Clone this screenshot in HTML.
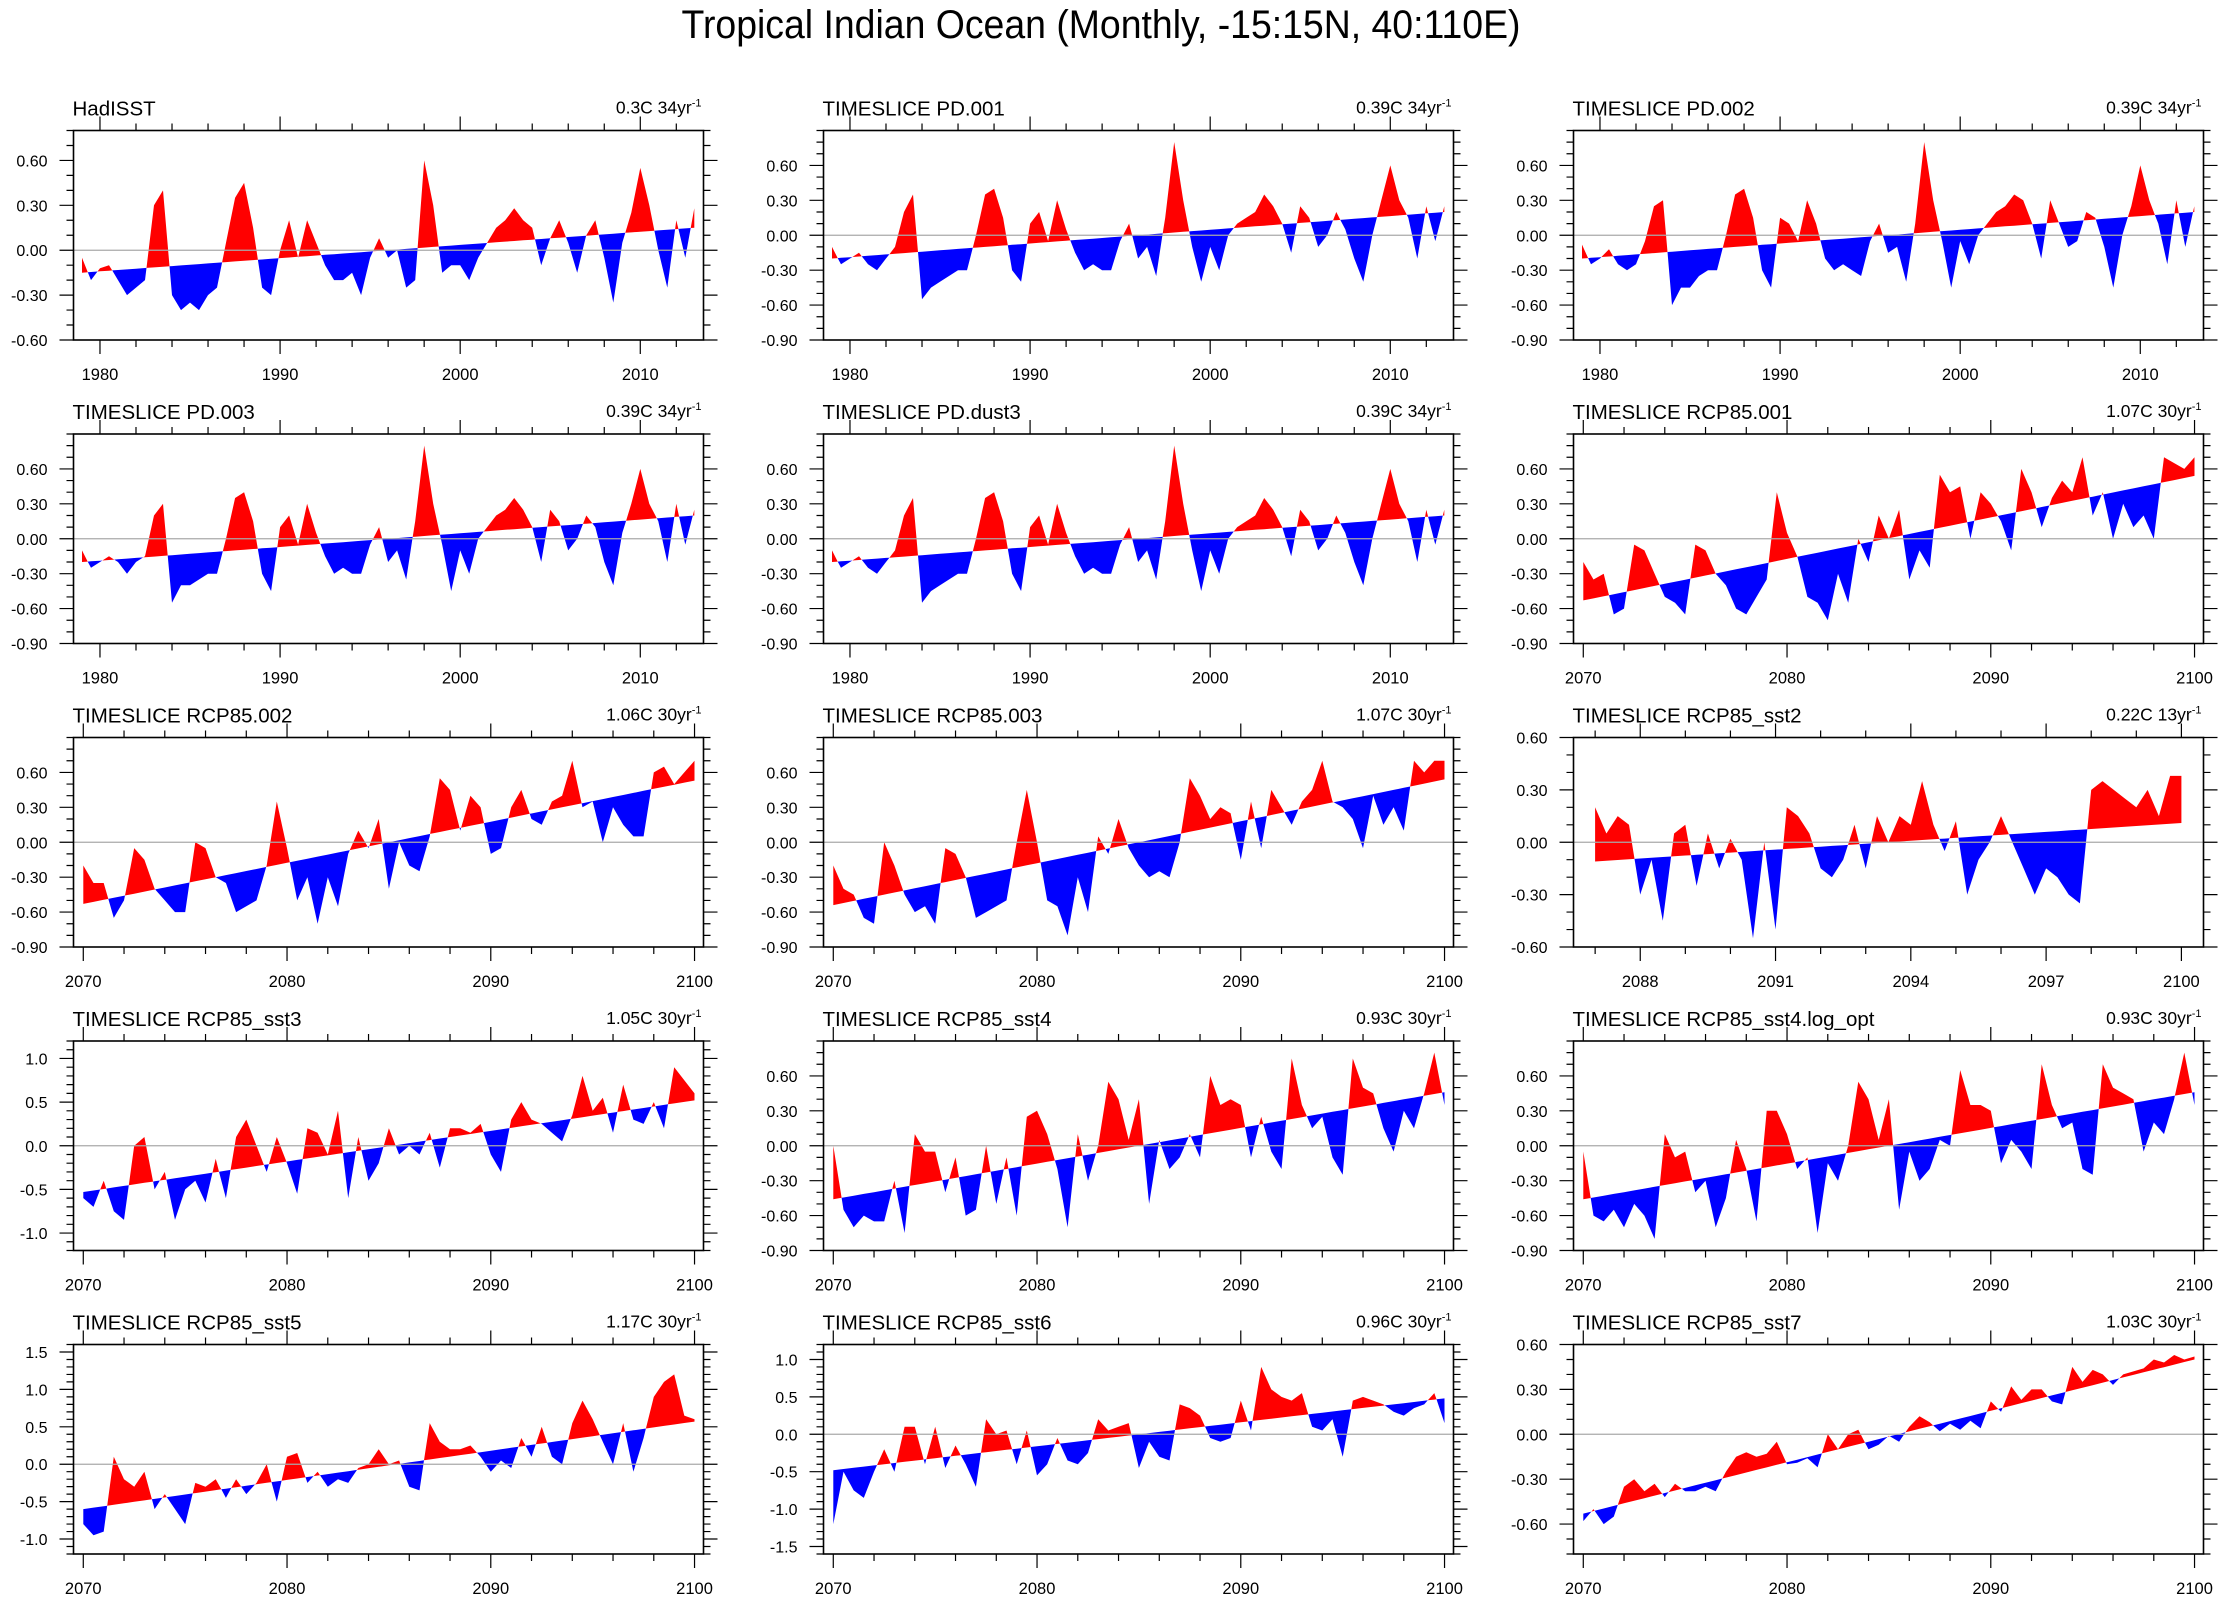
<!DOCTYPE html>
<html><head><meta charset="utf-8"><title>Tropical Indian Ocean</title>
<style>html,body{margin:0;padding:0;background:#fff}svg{display:block;font-family:"Liberation Sans",Arial,sans-serif}</style>
</head><body>
<svg id="fig" width="2227" height="1602" viewBox="0 0 2227 1602" xmlns="http://www.w3.org/2000/svg">
<rect width="2227" height="1602" fill="#fff"/>
<text x="1101" y="38" font-size="40" text-anchor="middle" textLength="839" lengthAdjust="spacingAndGlyphs">Tropical Indian Ocean (Monthly, -15:15N, 40:110E)</text>
</svg>
<script>
// ---- data (semiannual samples) ----
const hadisstValues=[-0.05,-0.2,-0.12,-0.1,-0.2,-0.3,-0.25,-0.2,0.3,0.4,-0.3,-0.4,-0.35,-0.4,-0.3,-0.25,0.05,0.35,0.45,0.15,-0.25,-0.3,0.0,0.2,-0.05,0.2,0.05,-0.1,-0.2,-0.2,-0.15,-0.3,-0.05,0.08,-0.05,0.0,-0.25,-0.2,0.6,0.3,-0.15,-0.1,-0.1,-0.2,-0.05,0.05,0.15,0.2,0.28,0.2,0.15,-0.1,0.08,0.2,0.05,-0.15,0.1,0.2,-0.05,-0.35,0.05,0.25,0.55,0.3,0.0,-0.25,0.2,-0.05,0.28];
const pd001Values=[-0.1,-0.25,-0.2,-0.15,-0.25,-0.3,-0.2,-0.1,0.2,0.35,-0.55,-0.45,-0.4,-0.35,-0.3,-0.3,0.0,0.35,0.4,0.15,-0.3,-0.4,0.1,0.2,-0.05,0.3,0.05,-0.15,-0.3,-0.25,-0.3,-0.3,-0.05,0.1,-0.2,-0.1,-0.35,0.15,0.8,0.3,-0.1,-0.4,-0.1,-0.3,0.0,0.1,0.15,0.2,0.35,0.25,0.1,-0.15,0.25,0.15,-0.1,0.0,0.2,0.05,-0.2,-0.4,0.0,0.3,0.6,0.3,0.15,-0.2,0.25,-0.05,0.25];
const pd002Values=[-0.08,-0.25,-0.2,-0.12,-0.25,-0.3,-0.25,-0.05,0.25,0.3,-0.6,-0.45,-0.45,-0.35,-0.3,-0.3,0.0,0.35,0.4,0.15,-0.3,-0.45,0.15,0.1,-0.05,0.3,0.1,-0.2,-0.3,-0.25,-0.3,-0.35,-0.05,0.1,-0.15,-0.1,-0.4,0.1,0.8,0.3,-0.05,-0.45,-0.05,-0.25,0.0,0.1,0.2,0.25,0.35,0.3,0.1,-0.2,0.3,0.1,-0.1,-0.05,0.2,0.15,-0.1,-0.45,0.0,0.25,0.6,0.3,0.1,-0.25,0.3,-0.1,0.25];
const pd003Values=[-0.1,-0.25,-0.2,-0.15,-0.2,-0.3,-0.2,-0.15,0.2,0.3,-0.55,-0.4,-0.4,-0.35,-0.3,-0.3,0.0,0.35,0.4,0.15,-0.3,-0.45,0.1,0.2,-0.05,0.3,0.05,-0.15,-0.3,-0.25,-0.3,-0.3,-0.05,0.1,-0.2,-0.1,-0.35,0.15,0.8,0.3,-0.05,-0.45,-0.1,-0.3,0.0,0.1,0.2,0.25,0.35,0.25,0.1,-0.2,0.25,0.15,-0.1,0.0,0.2,0.1,-0.2,-0.4,0.05,0.3,0.6,0.3,0.15,-0.2,0.3,-0.05,0.25];
const dust3Values=[-0.1,-0.25,-0.2,-0.15,-0.25,-0.3,-0.2,-0.1,0.2,0.35,-0.55,-0.45,-0.4,-0.35,-0.3,-0.3,0.0,0.35,0.4,0.15,-0.3,-0.45,0.1,0.2,-0.05,0.3,0.05,-0.15,-0.3,-0.25,-0.3,-0.3,-0.05,0.1,-0.2,-0.1,-0.35,0.15,0.8,0.3,-0.1,-0.45,-0.1,-0.3,0.0,0.1,0.15,0.2,0.35,0.25,0.1,-0.15,0.25,0.15,-0.1,0.0,0.2,0.05,-0.2,-0.4,0.0,0.3,0.6,0.3,0.15,-0.2,0.25,-0.05,0.25];
const rcp001Values=[-0.2,-0.35,-0.3,-0.65,-0.6,-0.05,-0.1,-0.3,-0.5,-0.55,-0.65,-0.05,-0.1,-0.3,-0.4,-0.6,-0.65,-0.5,-0.35,0.4,0.05,-0.15,-0.5,-0.55,-0.7,-0.3,-0.55,0.0,-0.2,0.2,0.0,0.25,-0.35,-0.1,-0.25,0.55,0.4,0.45,0.0,0.4,0.3,0.15,-0.1,0.6,0.4,0.1,0.35,0.5,0.4,0.7,0.2,0.4,0.0,0.3,0.1,0.2,0.0,0.7,0.65,0.6,0.7];
const rcp002Values=[-0.2,-0.35,-0.35,-0.65,-0.5,-0.05,-0.15,-0.4,-0.5,-0.6,-0.6,0.0,-0.05,-0.3,-0.35,-0.6,-0.55,-0.5,-0.2,0.35,-0.05,-0.5,-0.3,-0.7,-0.3,-0.55,-0.1,0.1,-0.05,0.2,-0.4,0.0,-0.2,-0.25,0.05,0.55,0.45,0.1,0.4,0.3,-0.1,-0.05,0.3,0.45,0.2,0.15,0.35,0.4,0.7,0.3,0.35,0.0,0.3,0.15,0.05,0.05,0.6,0.65,0.5,0.6,0.7];
const rcp003Values=[-0.2,-0.4,-0.45,-0.65,-0.7,0.0,-0.2,-0.45,-0.6,-0.55,-0.7,-0.05,-0.1,-0.3,-0.65,-0.6,-0.55,-0.5,0.0,0.45,0.0,-0.5,-0.55,-0.8,-0.3,-0.6,0.05,-0.1,0.2,-0.05,-0.2,-0.3,-0.25,-0.3,0.0,0.55,0.4,0.2,0.3,0.25,-0.15,0.35,-0.05,0.45,0.3,0.15,0.35,0.45,0.7,0.35,0.3,0.2,-0.05,0.4,0.15,0.3,0.1,0.7,0.6,0.7,0.7];
const sst2Values=[0.2,0.05,0.15,0.1,-0.3,-0.1,-0.45,0.05,0.1,-0.25,0.05,-0.15,0.02,-0.1,-0.55,0.0,-0.5,0.2,0.15,0.05,-0.15,-0.2,-0.1,0.1,-0.15,0.15,0.0,0.15,0.1,0.35,0.1,-0.05,0.12,-0.3,-0.1,0.0,0.15,0.0,-0.15,-0.3,-0.15,-0.2,-0.3,-0.35,0.3,0.35,0.3,0.25,0.2,0.3,0.15,0.38,0.38];
const sst3Values=[-0.6,-0.7,-0.4,-0.75,-0.85,0.0,0.1,-0.5,-0.3,-0.85,-0.5,-0.4,-0.65,-0.15,-0.6,0.1,0.3,0.0,-0.3,0.1,-0.2,-0.55,0.2,0.15,-0.1,0.4,-0.6,0.1,-0.4,-0.2,0.2,-0.1,0.0,-0.1,0.15,-0.25,0.2,0.2,0.15,0.25,-0.1,-0.3,0.3,0.5,0.3,0.25,0.15,0.05,0.35,0.8,0.4,0.55,0.15,0.7,0.3,0.25,0.5,0.2,0.9,0.75,0.6];
const sst4Values=[0.0,-0.55,-0.7,-0.6,-0.65,-0.65,-0.3,-0.75,0.1,-0.05,-0.05,-0.4,-0.1,-0.6,-0.55,0.0,-0.5,-0.1,-0.6,0.25,0.3,0.1,-0.2,-0.7,0.1,-0.3,0.0,0.55,0.4,0.05,0.4,-0.5,0.05,-0.2,-0.1,0.1,-0.1,0.6,0.35,0.4,0.35,-0.1,0.25,-0.05,-0.2,0.75,0.35,0.15,0.25,-0.1,-0.25,0.75,0.5,0.45,0.15,-0.05,0.3,0.15,0.45,0.8,0.35];
const logOptValues=[-0.05,-0.6,-0.65,-0.55,-0.7,-0.5,-0.6,-0.8,0.1,-0.1,-0.05,-0.4,-0.3,-0.7,-0.45,0.05,-0.2,-0.65,0.3,0.3,0.1,-0.2,-0.1,-0.75,-0.15,-0.3,0.0,0.55,0.4,0.05,0.4,-0.55,-0.05,-0.3,-0.2,0.05,0.0,0.65,0.35,0.35,0.3,-0.15,0.05,-0.05,-0.2,0.7,0.35,0.15,0.2,-0.2,-0.25,0.7,0.5,0.45,0.4,-0.05,0.2,0.1,0.4,0.8,0.35];
const sst5Values=[-0.8,-0.95,-0.9,0.1,-0.2,-0.3,-0.1,-0.6,-0.4,-0.6,-0.8,-0.25,-0.3,-0.2,-0.45,-0.2,-0.4,-0.25,0.0,-0.5,0.1,0.15,-0.25,-0.1,-0.3,-0.2,-0.25,-0.05,0.0,0.2,0.0,0.05,-0.3,-0.35,0.55,0.3,0.2,0.2,0.25,0.1,-0.1,0.05,-0.05,0.35,0.1,0.5,0.1,0.0,0.55,0.85,0.6,0.3,0.0,0.55,-0.1,0.35,0.9,1.1,1.2,0.65,0.6];
const sst6Values=[-1.2,-0.5,-0.75,-0.85,-0.5,-0.2,-0.5,0.1,0.1,-0.4,0.1,-0.45,-0.15,-0.4,-0.7,0.2,0.0,0.05,-0.4,0.05,-0.55,-0.4,-0.05,-0.35,-0.4,-0.25,0.2,0.05,0.1,0.15,-0.45,-0.1,-0.3,-0.35,0.4,0.35,0.25,-0.05,-0.1,-0.05,0.45,0.05,0.9,0.6,0.5,0.45,0.55,0.1,0.05,0.2,-0.3,0.45,0.5,0.45,0.4,0.3,0.25,0.35,0.4,0.55,0.15];
const sst7Values=[-0.58,-0.5,-0.6,-0.55,-0.35,-0.3,-0.38,-0.33,-0.42,-0.33,-0.38,-0.38,-0.35,-0.38,-0.25,-0.15,-0.12,-0.15,-0.13,-0.05,-0.2,-0.19,-0.16,-0.22,0.0,-0.1,0.0,0.03,-0.1,-0.07,-0.01,-0.05,0.05,0.12,0.08,0.02,0.07,0.03,0.09,0.04,0.22,0.15,0.32,0.23,0.3,0.3,0.22,0.2,0.45,0.35,0.43,0.4,0.33,0.4,0.42,0.44,0.5,0.48,0.53,0.5,0.52];
// trend end points [start, end]
const trendHad=[-0.15,0.15], trendPD=[-0.2,0.2], trendR001=[-0.53,0.54], trendR002=[-0.53,0.53], trendR003=[-0.54,0.54];
const trendSst2=[-0.11,0.11], trendSst3=[-0.53,0.52], trendSst4=[-0.46,0.46], trendSst5=[-0.6,0.57], trendSst6=[-0.48,0.48], trendSst7=[-0.53,0.5];
const panelTitles=["HadISST","TIMESLICE PD.001","TIMESLICE PD.002","TIMESLICE PD.003","TIMESLICE PD.dust3","TIMESLICE RCP85.001","TIMESLICE RCP85.002","TIMESLICE RCP85.003","TIMESLICE RCP85_sst2","TIMESLICE RCP85_sst3","TIMESLICE RCP85_sst4","TIMESLICE RCP85_sst4.log_opt","TIMESLICE RCP85_sst5","TIMESLICE RCP85_sst6","TIMESLICE RCP85_sst7"];
const panelTrendText=[["0.3C","34yr"],["0.39C","34yr"],["0.39C","34yr"],["0.39C","34yr"],["0.39C","34yr"],["1.07C","30yr"],["1.06C","30yr"],["1.07C","30yr"],["0.22C","13yr"],["1.05C","30yr"],["0.93C","30yr"],["0.93C","30yr"],["1.17C","30yr"],["0.96C","30yr"],["1.03C","30yr"]];
const pdYears=[1980,1990,2000,2010], rcpYears=[2070,2080,2090,2100], sst2Years=[2088,2091,2094,2097,2100];
const yLab09=["-0.90","-0.60","-0.30","0.00","0.30","0.60"], yLab06=["-0.60","-0.30","0.00","0.30","0.60"];
const yLabOne=["-1.0","-0.5","0.0","0.5","1.0"], yLab15=["-1.0","-0.5","0.0","0.5","1.0","1.5"], yLab6b=["-1.5","-1.0","-0.5","0.0","0.5","1.0"];

const NS="http://www.w3.org/2000/svg";
const svg=document.getElementById('fig');
function mk(tag,attrs,parent){const e=document.createElementNS(NS,tag);for(const k in attrs)e.setAttribute(k,attrs[k]);(parent||svg).appendChild(e);return e;}

const PD={x0:1978.53,x1:2013.51,t0:1979,dt:0.5,xt:pdYears,xminor:2};
const RC={x0:2069.52,x1:2100.44,t0:2070,dt:0.5,xt:rcpYears,xminor:2};
const S2={x0:2086.52,x1:2100.49,t0:2087,dt:0.25,xt:sst2Years,xminor:1};
const panels=[
 {v:hadisstValues,tr:trendHad,x:PD,y0:-0.6,y1:0.8,yl:yLab06},
 {v:pd001Values,tr:trendPD,x:PD,y0:-0.9,y1:0.9,yl:yLab09},
 {v:pd002Values,tr:trendPD,x:PD,y0:-0.9,y1:0.9,yl:yLab09},
 {v:pd003Values,tr:trendPD,x:PD,y0:-0.9,y1:0.9,yl:yLab09},
 {v:dust3Values,tr:trendPD,x:PD,y0:-0.9,y1:0.9,yl:yLab09},
 {v:rcp001Values,tr:trendR001,x:RC,y0:-0.9,y1:0.9,yl:yLab09},
 {v:rcp002Values,tr:trendR002,x:RC,y0:-0.9,y1:0.9,yl:yLab09},
 {v:rcp003Values,tr:trendR003,x:RC,y0:-0.9,y1:0.9,yl:yLab09},
 {v:sst2Values,tr:trendSst2,x:S2,y0:-0.6,y1:0.6,yl:yLab06},
 {v:sst3Values,tr:trendSst3,x:RC,y0:-1.2,y1:1.2,yl:yLabOne},
 {v:sst4Values,tr:trendSst4,x:RC,y0:-0.9,y1:0.9,yl:yLab09},
 {v:logOptValues,tr:trendSst4,x:RC,y0:-0.9,y1:0.9,yl:yLab09},
 {v:sst5Values,tr:trendSst5,x:RC,y0:-1.2,y1:1.6,yl:yLab15},
 {v:sst6Values,tr:trendSst6,x:RC,y0:-1.6,y1:1.2,yl:yLab6b},
 {v:sst7Values,tr:trendSst7,x:RC,y0:-0.8,y1:0.6,yl:yLab06}
];

panels.forEach((p,i)=>{
  const col=i%3,row=Math.floor(i/3);
  const L=73.5+750*col, T=130.5+303.5*row, W=630, H=209.5, R=L+W, B=T+H;
  const g=mk('g',{});
  
  
  const X=t=>L+(t-p.x.x0)/(p.x.x1-p.x.x0)*W;
  const Y=v=>B-(v-p.y0)/(p.y1-p.y0)*H;
  const n=p.v.length, tEnd=p.x.t0+(n-1)*p.x.dt;
  const trendAt=t=>p.tr[0]+(p.tr[1]-p.tr[0])*(t-p.x.t0)/(tEnd-p.x.t0);
  const pts=[];
  for(let k=0;k<n;k++){
    const t=p.x.t0+k*p.x.dt, d=p.v[k]-trendAt(t);
    if(k>0){const tp=t-p.x.dt, dp=p.v[k-1]-trendAt(tp);
      if(dp*d<0){const f=dp/(dp-d);const tc=tp+f*p.x.dt;pts.push([tc,trendAt(tc)]);}}
    pts.push([t,p.v[k]]);
  }
  function area(sel){
    let dstr='M'+pts.map(q=>X(q[0]).toFixed(1)+','+Y(trendAt(q[0])).toFixed(1)).join('L');
    for(let k=pts.length-1;k>=0;k--){const q=pts[k],tr=trendAt(q[0]);dstr+='L'+X(q[0]).toFixed(1)+','+Y(sel(q[1],tr)).toFixed(1);}
    return dstr+'Z';
  }
  const up=mk('path',{d:area(Math.max),fill:'#ff0000',stroke:'none'},g);
  
  
  const dn=mk('path',{d:area(Math.min),fill:'#0000ff',stroke:'none'},g);
  
  
  const zl=mk('line',{x1:L,x2:R,y1:Y(0),y2:Y(0),stroke:'#aaaaaa','stroke-width':1.2},g);
  
  
  const box=mk('rect',{x:L,y:T,width:W,height:H,fill:'none',stroke:'#000','stroke-width':1.6},g);
  
  
  let tk='';
  const first=Math.ceil(p.y0*10-1e-6), last=Math.floor(p.y1*10+1e-6);
  for(let m=first;m<=last;m++){const v=m/10, y=Y(v);
    const isMaj=p.yl.some(s=>Math.abs(parseFloat(s)-v)<1e-6);
    const len=isMaj?14:7;
    tk+=`M${L},${y}h${-len}M${R},${y}h${len}`;}
  const xs=Math.ceil(p.x.x0), xe=Math.floor(p.x.x1);
  for(let yr=xs;yr<=xe;yr++){
    const isMaj=p.x.xt.includes(yr); const isMin=(yr%p.x.xminor===0);
    if(!isMaj&&!isMin)continue;
    const len=isMaj?14:7, x=X(yr);
    tk+=`M${x},${B}v${len}M${x},${T}v${-len}`;}
  const tp=mk('path',{d:tk,stroke:'#000','stroke-width':1.2,fill:'none'},g);
  
  
  p.yl.forEach(s=>{const t=mk('text',{x:L-26,y:Y(parseFloat(s))+6,'font-size':16,'text-anchor':'end'},g);t.textContent=s;
    
    });
  p.x.xt.forEach(yr=>{const t=mk('text',{x:X(yr),y:B+40,'font-size':16.5,'text-anchor':'middle'},g);t.textContent=yr;
    
    });
  const ti=mk('text',{x:L-1,y:T-15,'font-size':20.5},g);ti.textContent=panelTitles[i];
  
  
  const rt=mk('text',{x:R-2,y:T-17,'font-size':17.5,'text-anchor':'end'},g);
  
  
  const t1=mk('tspan',{},rt);t1.textContent=panelTrendText[i][0]+' '+panelTrendText[i][1];
  const t2=mk('tspan',{'font-size':11,dy:-7},rt);t2.textContent='-1';
});
</script>
</body></html>
